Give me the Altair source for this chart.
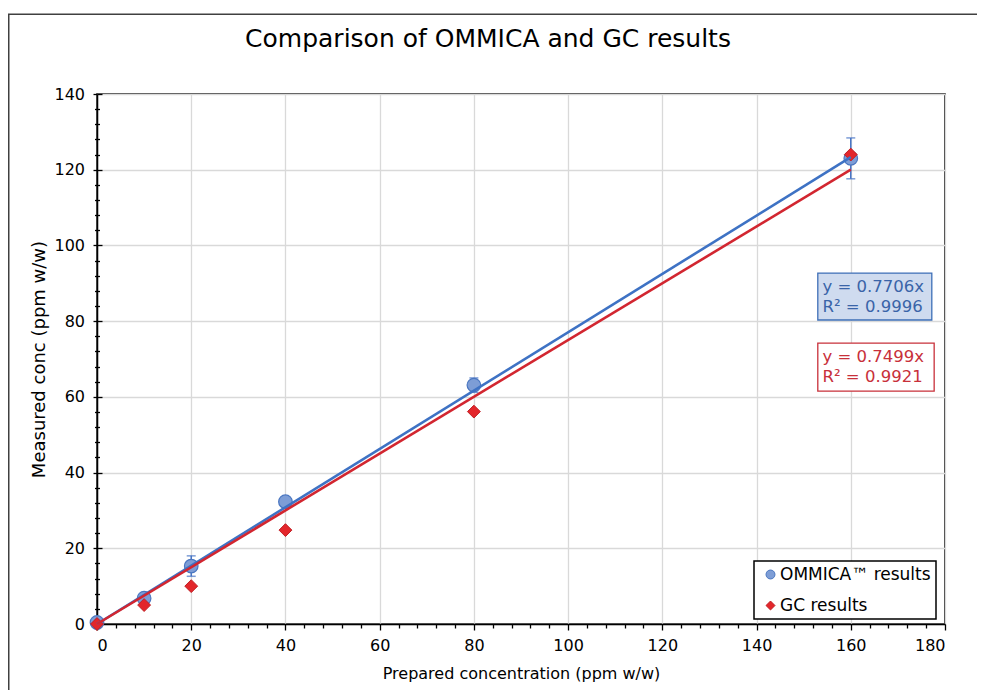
import altair as alt
import pandas as pd

# ---- data ----
prepared = [0, 10, 20, 40, 80, 160]
ommica = [0.4, 6.8, 15.3, 32.3, 63.1, 123.0]
ommica_err = [0.0, 1.0, 2.7, 1.0, 1.9, 5.4]
gc = [0.0, 5.0, 10.0, 24.8, 56.1, 124.0]

trend_x = [0, 160]
trend_ommica = [0, 123.3]   # y = 0.7706x
trend_gc = [0, 120.0]       # y = 0.7499x

x_major = [0, 20, 40, 60, 80, 100, 120, 140, 160, 180]
y_major = [0, 20, 40, 60, 80, 100, 120, 140]
x_minor = [v for v in range(0, 181, 4) if v % 20 != 0]
y_minor = [v for v in range(0, 141, 4) if v % 20 != 0]

eq_blue = ["y = 0.7706x", "R² = 0.9996"]
eq_blue_y = [89.0, 83.7]
eq_red = ["y = 0.7499x", "R² = 0.9921"]
eq_red_y = [70.5, 65.2]
eq_x = 154.0
box_blue = {"x": [153.0], "x2": [177.2], "y": [92.7], "y2": [80.3]}
box_red = {"x": [153.0], "x2": [177.7], "y": [74.2], "y2": [61.5]}

S1 = "OMMICA™ results"
S2 = "GC results"
TITLE = "Comparison of OMMICA and GC results"

FONT = "DejaVu Sans"
W, H = 848, 530

pts = pd.DataFrame({"x": prepared, "om": ommica, "gc": gc,
                    "lo": [a - e for a, e in zip(ommica, ommica_err)],
                    "hi": [a + e for a, e in zip(ommica, ommica_err)]})
long = pd.DataFrame({
    "x": prepared + prepared,
    "y": ommica + gc,
    "s": [S1] * len(prepared) + [S2] * len(prepared),
})
trend = pd.DataFrame({"x": trend_x, "om": trend_ommica, "gc": trend_gc})

xs = alt.Scale(domain=[0, 180], nice=False)
ys = alt.Scale(domain=[0, 140], nice=False)
color_scale = alt.Scale(domain=[S1, S2], range=["#7d9dd6", "#e3262b"])
shape_scale = alt.Scale(domain=[S1, S2], range=["circle", "diamond"])
stroke_scale = alt.Scale(domain=[S1, S2], range=["#4a76c0", "#c01f24"])

def X(f="x"):
    return alt.X(f + ":Q", scale=xs, axis=None)

def Y(f):
    return alt.Y(f + ":Q", scale=ys, axis=None)

# major axes + grid (invisible carrier layer)
major = alt.Chart(pts).mark_point(opacity=0).encode(
    x=alt.X("x:Q", scale=xs, axis=alt.Axis(
        values=x_major, title="Prepared concentration (ppm w/w)", grid=True,
        tickSize=6, labelPadding=7, titlePadding=12, titleFontSize=16)),
    y=alt.Y("om:Q", scale=ys, axis=alt.Axis(
        values=y_major, title="Measured conc (ppm w/w)", grid=True,
        tickSize=4, labelPadding=8.5, titlePadding=5, titleFontSize=18)),
)
minor = alt.Chart(pts).mark_point(opacity=0).encode(
    x=alt.X("x:Q", scale=xs, axis=alt.Axis(
        values=x_minor, labels=False, title=None, grid=False, tickSize=4,
        orient="bottom", domain=False)),
    y=alt.Y("om:Q", scale=ys, axis=alt.Axis(
        values=y_minor, labels=False, title=None, grid=False, tickSize=2.5,
        orient="left", domain=False)),
)
inner_major = alt.Chart(pts).mark_point(opacity=0).encode(
    x=X(),
    y=alt.Y("om:Q", scale=ys, axis=alt.Axis(
        values=y_major, labels=False, title=None, grid=False, tickSize=5,
        orient="right", offset=-W, domain=False)),
)
inner_minor = alt.Chart(pts).mark_point(opacity=0).encode(
    x=X(),
    y=alt.Y("om:Q", scale=ys, axis=alt.Axis(
        values=y_minor, labels=False, title=None, grid=False, tickSize=2.5,
        orient="right", offset=-W, domain=False)),
)

err = alt.Chart(pts).mark_rule(color="#4472c4", strokeWidth=1.5).encode(
    x=X(), y=Y("lo"), y2="hi:Q")
cap_hi = alt.Chart(pts).mark_tick(color="#4472c4", thickness=1.5, size=9,
                                  orient="horizontal").encode(x=X(), y=Y("hi"))
cap_lo = alt.Chart(pts).mark_tick(color="#4472c4", thickness=1.5, size=9,
                                  orient="horizontal").encode(x=X(), y=Y("lo"))

legend = alt.Legend(title=None)
p_om = alt.Chart(long).transform_filter(alt.datum.s == S1).mark_point(
    filled=True, size=185, opacity=1, strokeWidth=1.2).encode(
    x=X(), y=Y("y"),
    color=alt.Color("s:N", scale=color_scale, legend=legend),
    shape=alt.Shape("s:N", scale=shape_scale, legend=legend),
    stroke=alt.Stroke("s:N", scale=stroke_scale, legend=legend),
)
p_gc = alt.Chart(long).transform_filter(alt.datum.s == S2).mark_point(
    filled=True, size=165, opacity=1, strokeWidth=1).encode(
    x=X(), y=Y("y"),
    color=alt.Color("s:N", scale=color_scale, legend=legend),
    shape=alt.Shape("s:N", scale=shape_scale, legend=legend),
    stroke=alt.Stroke("s:N", scale=stroke_scale, legend=legend),
)

l_om = alt.Chart(trend).mark_line(color="#3e72c4", strokeWidth=2.6).encode(x=X(), y=Y("om"))
l_gc = alt.Chart(trend).mark_line(color="#d22630", strokeWidth=2.6).encode(x=X(), y=Y("gc"))

b_blue = alt.Chart(pd.DataFrame(box_blue)).mark_rect(
    fill="#cfdbef", stroke="#3e6fb7", strokeWidth=1.3).encode(
    x=X(), x2="x2:Q", y=Y("y"), y2="y2:Q")
b_red = alt.Chart(pd.DataFrame(box_red)).mark_rect(
    fill="#ffffff", stroke="#c8303a", strokeWidth=1.3).encode(
    x=X(), x2="x2:Q", y=Y("y"), y2="y2:Q")
t_blue = alt.Chart(pd.DataFrame({"t": eq_blue, "y": eq_blue_y, "x": [eq_x] * 2})).mark_text(
    align="left", baseline="middle", font=FONT, fontSize=16.5, color="#3a64a8").encode(
    x=X(), y=Y("y"), text="t:N")
t_red = alt.Chart(pd.DataFrame({"t": eq_red, "y": eq_red_y, "x": [eq_x] * 2})).mark_text(
    align="left", baseline="middle", font=FONT, fontSize=16.5, color="#c8303a").encode(
    x=X(), y=Y("y"), text="t:N")

one = pd.DataFrame({"t": [TITLE]})
frame = alt.Chart(one).mark_rect(
    fill=None, stroke="#404040", strokeWidth=1.5, clip=False).encode(
    x=alt.value(-88.25), x2=alt.value(W + 100),
    y=alt.value(-79.75), y2=alt.value(H + 120))
title = alt.Chart(one).mark_text(
    font=FONT, fontSize=25, color="#000000", align="center", baseline="alphabetic").encode(
    x=alt.value(391), y=alt.value(-46.7), text="t:N")

chart = alt.layer(
    frame, title, major, minor, inner_major, inner_minor, err, cap_hi, cap_lo,
    p_om, p_gc, l_om, l_gc, b_blue, b_red, t_blue, t_red
).resolve_axis(x="independent", y="independent").properties(
    width=W, height=H,
    autosize=alt.AutoSizeParams(type="none"),
    padding={"left": 89, "top": 86, "right": 32, "bottom": 66},
).configure_view(stroke="#000000", strokeWidth=1.5).configure_axis(
    labelFont=FONT, titleFont=FONT, labelFontSize=16, titleFontSize=16,
    titleFontWeight="normal", labelColor="#000000", titleColor="#000000",
    domainColor="#000000", domainWidth=1.5, tickColor="#000000", tickWidth=1.3,
    gridColor="#d9d9d9", gridWidth=1.3,
).configure_legend(
    orient="none", legendX=657, legendY=467, labelFont=FONT, labelFontSize=17,
    labelColor="#000000", strokeColor="#000000", strokeWidth=1.5, fillColor="#ffffff",
    padding=5, symbolSize=80, rowPadding=13, labelOffset=1, symbolOffset=3,
    symbolStrokeWidth=1, cornerRadius=0,
)

chart.save("out.html", embed_options={"renderer": "svg", "actions": False})
